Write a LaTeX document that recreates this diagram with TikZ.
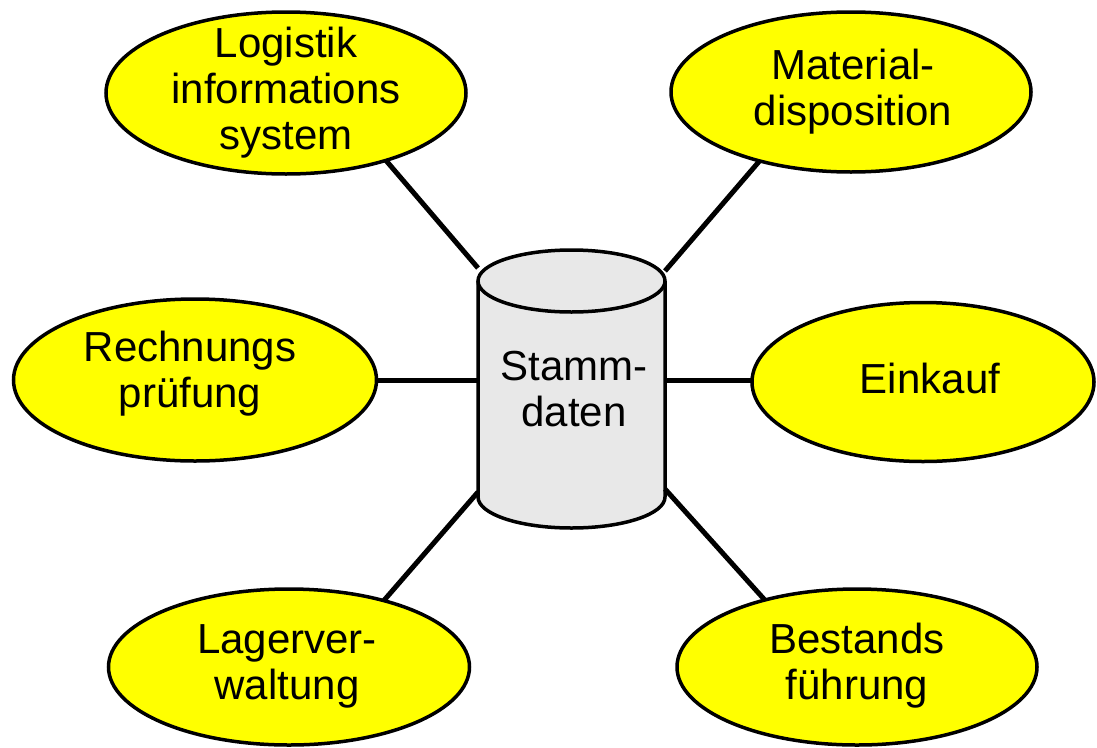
\documentclass[tikz,border=0pt]{standalone}
\usepackage{fontspec}
\setmainfont{Liberation Sans}
\usetikzlibrary{shapes.geometric}
\definecolor{ellyellow}{RGB}{255,255,0}
\definecolor{cylgray}{RGB}{232,232,232}
\tikzset{
  ell/.style={ellipse, draw=black, line width=3.5pt, fill=ellyellow, inner sep=0pt, outer sep=0pt},
  txt/.style={align=center, font=\fontsize{42}{46}\selectfont, inner sep=0pt},
  conn/.style={line width=5pt, draw=black},
  cylline/.style={line width=3.5pt, draw=black}
}
\begin{document}
\begin{tikzpicture}[x=1pt,y=-1pt]
\useasboundingbox[fill=white] (0,0) rectangle (1097,747);

% ellipses
\node[ell, minimum width=360pt, minimum height=162pt] (log) at (286,93) {};
\node[ell, minimum width=360pt, minimum height=160pt] (mat) at (851,92) {};
\node[ell, minimum width=363pt, minimum height=162pt] (rec) at (195,380) {};
\node[ell, minimum width=342pt, minimum height=159pt] (ein) at (923,382) {};
\node[ell, minimum width=361pt, minimum height=156pt] (lag) at (289,667) {};
\node[ell, minimum width=360pt, minimum height=156pt] (bes) at (857,667) {};

\node[txt] at (log) {Logistik\\informations\\system};
\node[txt] at (853,92) {Material-\\disposition};
\node[txt] at (190,374) {Rechnungs\\prüfung};
\node[txt] at (930,378) {Einkauf};
\node[txt] at (287,666) {Lagerver-\\waltung};
\node[txt] at (857,666) {Bestands\\führung};

% cylinder
\fill[cylgray] (478,281) -- (478,497) arc[start angle=180, end angle=360, x radius=93.5pt, y radius=31pt] -- (665,281) -- cycle;
\fill[cylgray] (571.5,281) ellipse[x radius=93.5pt, y radius=31pt];
\draw[cylline] (478,281) -- (478,497) arc[start angle=180, end angle=360, x radius=93.5pt, y radius=31pt] -- (665,281);
\draw[cylline] (571.5,281) ellipse[x radius=93.5pt, y radius=31pt];
\node[txt] (cyl) at (574,389) {Stamm-\\daten};

% connection points on cylinder
\coordinate (cTL) at (478,268);
\coordinate (cTR) at (665,271);
\coordinate (cL) at (478,380);
\coordinate (cR) at (665,380);
\coordinate (cBL) at (478,492);
\coordinate (cBR) at (665,489);

% connectors
\draw[conn] (log.-34) -- (cTL);
\draw[conn] (mat.217) -- (cTR);
\draw[conn] (rec.east) -- (cL);
\draw[conn] (ein.west |- cR) -- (cR);
\draw[conn] (lag.35) -- (cBL);
\draw[conn] (bes.144) -- (cBR);
\end{tikzpicture}
\end{document}
